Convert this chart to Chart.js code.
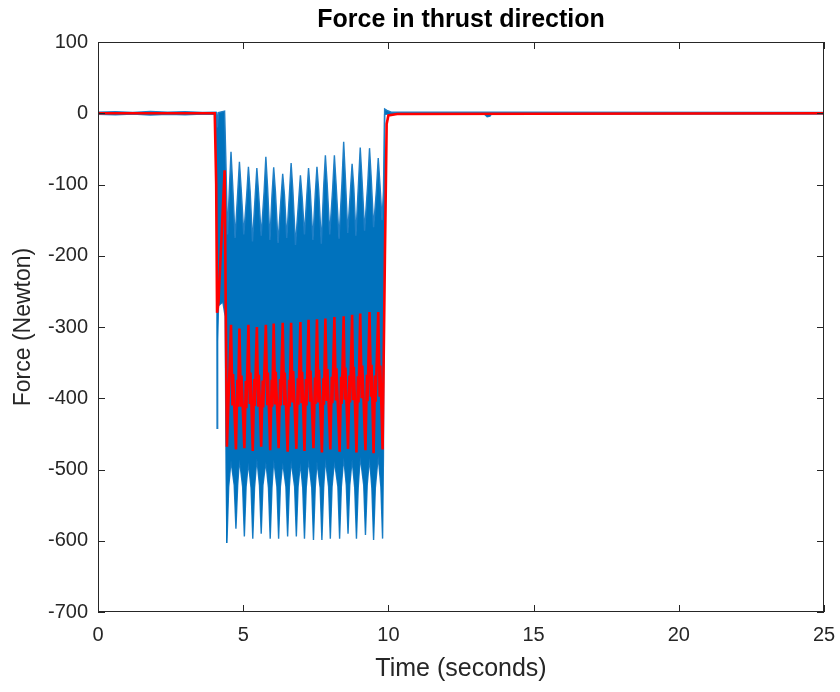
<!DOCTYPE html>
<html>
<head>
<meta charset="utf-8">
<title>Force in thrust direction</title>
<script src="https://cdn.jsdelivr.net/npm/chart.js@4.4.0/dist/chart.umd.min.js"></script>
<style>
  body { margin: 0; background: #fff; }
  #wrap { width: 840px; height: 692px; }
</style>
</head>
<body>
<div id="wrap"><canvas id="forceChart"></canvas></div>
<script>
// Force in thrust direction

const chartTitle = 'Force in thrust direction';
const xTicks = [0, 5, 10, 15, 20, 25];
const yTicks = [-700, -600, -500, -400, -300, -200, -100, 0, 100];

// blue signal, upper edge of the dense band (seconds / Newton)
const blueTopTime = [
    0, 0.6, 1.2, 1.8, 2.4, 3.0, 3.6, 4.07,
    4.09, 4.11, 4.15, 4.36, 4.40, 4.46,
    4.52, 4.58, 4.64, 4.72,
    4.81, 4.87, 4.93, 5.02,
    5.12, 5.18, 5.24, 5.32,
    5.41, 5.47, 5.53, 5.62,
    5.72, 5.78, 5.84, 5.92,
    5.99, 6.05, 6.11, 6.20,
    6.30, 6.36, 6.42, 6.50,
    6.59, 6.65, 6.71, 6.80,
    6.91, 6.97, 7.03, 7.11,
    7.19, 7.25, 7.31, 7.40,
    7.48, 7.54, 7.60, 7.69,
    7.77, 7.83, 7.89, 7.98,
    8.08, 8.14, 8.20, 8.30,
    8.40, 8.46, 8.52, 8.60,
    8.69, 8.75, 8.81, 8.88,
    8.97, 9.03, 9.09, 9.18,
    9.29, 9.35, 9.41, 9.49,
    9.59, 9.65, 9.71, 9.78,
    9.83, 9.87, 9.95, 10.1, 13.3, 13.4, 13.5, 25
];
const blueTopForce = [
    1.5, 2, 1, 2.5, 1.5, 2, 1, 1.5,
    0, -20, 1, 3, -60, -170,
    -110, -54, -102, -175,
    -112, -68, -106, -170,
    -115, -75, -110, -180,
    -118, -77, -112, -172,
    -110, -61, -104, -178,
    -116, -76, -110, -182,
    -120, -85, -114, -175,
    -114, -70, -108, -185,
    -122, -87, -118, -170,
    -116, -77, -110, -178,
    -114, -75, -108, -183,
    -104, -59, -98, -170,
    -106, -59, -100, -176,
    -98, -40, -92, -168,
    -110, -71, -105, -172,
    -98, -48, -92, -165,
    -98, -49, -92, -160,
    -106, -63, -100, -150,
    -110, 6, 4, 1.5, 1.5, 1.5, 1.5, 1
];

// blue signal, lower edge of the dense band
const blueBottomTime = [
    0, 0.6, 1.2, 1.8, 2.4, 3.0, 3.6, 4.07,
    4.09, 4.10, 4.12, 4.15, 4.30, 4.38, 4.41,
    4.44, 4.50, 4.58,
    4.69, 4.75, 4.81, 4.87,
    4.98, 5.04, 5.10, 5.18,
    5.27, 5.33, 5.39, 5.47,
    5.56, 5.62, 5.68, 5.78,
    5.87, 5.93, 5.99, 6.05,
    6.16, 6.22, 6.28, 6.36,
    6.47, 6.53, 6.59, 6.65,
    6.77, 6.83, 6.89, 6.97,
    7.05, 7.11, 7.17, 7.25,
    7.36, 7.42, 7.48, 7.54,
    7.65, 7.71, 7.77, 7.83,
    7.94, 8.00, 8.06, 8.14,
    8.26, 8.32, 8.38, 8.46,
    8.55, 8.61, 8.67, 8.75,
    8.84, 8.90, 8.96, 9.03,
    9.15, 9.21, 9.27, 9.35,
    9.43, 9.49, 9.55, 9.65,
    9.74, 9.80, 9.83,
    9.87, 10.1, 13.3, 13.4, 13.5, 13.55, 25
];
const blueBottomForce = [
    -1.5, -2, -1, -2.5, -1.5, -2, -1, -1.5,
    -100, -442, -320, -270, -265, -285, -500,
    -603, -525, -488,
    -522, -583, -522, -486,
    -524, -594, -524, -490,
    -526, -597, -526, -485,
    -522, -590, -522, -489,
    -526, -597, -526, -486,
    -524, -597, -524, -490,
    -524, -594, -524, -488,
    -524, -594, -524, -491,
    -526, -597, -526, -486,
    -526, -599, -526, -489,
    -526, -599, -526, -485,
    -524, -597, -524, -488,
    -524, -597, -524, -483,
    -522, -590, -522, -486,
    -526, -597, -526, -482,
    -522, -592, -522, -484,
    -526, -599, -526, -481,
    -524, -597, -480,
    -1.5, -1, -1, -5, -4, -1, -1
];

// red signal
const redTime = [
    0, 4.02, 4.07, 4.10, 4.15, 4.36, 4.44,
    4.58, 4.63, 4.65, 4.75, 4.80, 4.82,
    4.87, 4.92, 4.94, 5.04, 5.09, 5.11,
    5.18, 5.23, 5.25, 5.33, 5.38, 5.40,
    5.47, 5.52, 5.54, 5.62, 5.67, 5.69,
    5.78, 5.83, 5.85, 5.93, 5.98, 6.00,
    6.05, 6.10, 6.12, 6.22, 6.27, 6.29,
    6.36, 6.41, 6.43, 6.53, 6.58, 6.60,
    6.65, 6.70, 6.72, 6.83, 6.88, 6.90,
    6.97, 7.01, 7.03, 7.11, 7.16, 7.18,
    7.25, 7.30, 7.32, 7.42, 7.47, 7.49,
    7.54, 7.59, 7.61, 7.71, 7.76, 7.78,
    7.83, 7.88, 7.90, 8.00, 8.05, 8.07,
    8.14, 8.19, 8.21, 8.32, 8.37, 8.39,
    8.46, 8.50, 8.52, 8.61, 8.66, 8.68,
    8.75, 8.79, 8.81, 8.90, 8.95, 8.97,
    9.03, 9.08, 9.10, 9.21, 9.26, 9.28,
    9.35, 9.40, 9.42, 9.49, 9.54, 9.56,
    9.65, 9.70, 9.72, 9.80,
    9.88, 9.94, 10.0, 10.3, 25
];
const redForce = [
    0, 0, -100, -280, -265, -80, -468,
    -297, -410, -366, -472, -374, -412,
    -302, -412, -368, -470, -376, -414,
    -297, -408, -364, -474, -373, -411,
    -300, -410, -367, -468, -375, -413,
    -297, -408, -364, -473, -374, -412,
    -295, -407, -363, -470, -373, -410,
    -294, -408, -364, -475, -374, -412,
    -294, -406, -362, -471, -372, -409,
    -293, -407, -363, -474, -373, -410,
    -290, -405, -361, -470, -371, -408,
    -289, -404, -360, -476, -372, -409,
    -288, -404, -359, -472, -370, -407,
    -286, -403, -358, -475, -370, -408,
    -285, -402, -357, -471, -368, -406,
    -283, -401, -356, -476, -369, -406,
    -281, -400, -354, -473, -367, -404,
    -279, -398, -353, -477, -368, -405,
    -279, -398, -354, -472,
    -200, -15, -3, -1, 0
];

function toPoints(times, values) {
    return times.map((t, i) => ({ x: t, y: values[i] }));
}

const fontFamily = "'Liberation Sans', Arial, Helvetica, sans-serif";

// MATLAB style box with inward ticks on all four sides, title over the plot area
const axesBox = {
    id: 'axesBox',
    afterDatasetsDraw(chart) {
        const { ctx, chartArea: a, scales } = chart;
        const len = 7;
        ctx.save();
        ctx.strokeStyle = '#262626';
        ctx.lineWidth = 1;
        ctx.beginPath();
        xTicks.forEach(v => {
            const px = Math.round(scales.x.getPixelForValue(v)) + 0.5;
            ctx.moveTo(px, a.bottom);
            ctx.lineTo(px, a.bottom - len);
            ctx.moveTo(px, a.top);
            ctx.lineTo(px, a.top + len);
        });
        yTicks.forEach(v => {
            const py = Math.round(scales.y.getPixelForValue(v)) + 0.5;
            ctx.moveTo(a.left, py);
            ctx.lineTo(a.left + len, py);
            ctx.moveTo(a.right, py);
            ctx.lineTo(a.right - len, py);
        });
        ctx.stroke();
        ctx.strokeRect(Math.round(a.left) + 0.5, Math.round(a.top) + 0.5,
            Math.round(a.width) - 1, Math.round(a.height) - 1);

        ctx.fillStyle = '#000';
        ctx.font = 'bold 25px ' + fontFamily;
        ctx.textAlign = 'center';
        ctx.textBaseline = 'middle';
        ctx.fillText(chartTitle, (a.left + a.right) / 2, 20);
        ctx.restore();
    }
};

new Chart(document.getElementById('forceChart'), {
    type: 'scatter',
    data: {
        datasets: [
            {
                label: 'red',
                data: toPoints(redTime, redForce),
                showLine: true,
                borderColor: '#ff0000',
                borderWidth: 2.6,
                pointRadius: 0,
                fill: false,
                order: 0
            },
            {
                label: 'blue top',
                data: toPoints(blueTopTime, blueTopForce),
                showLine: true,
                borderColor: '#1f7fc6',
                borderWidth: 1.4,
                backgroundColor: '#0072bd',
                pointRadius: 0,
                fill: '+1',
                order: 1
            },
            {
                label: 'blue bottom',
                data: toPoints(blueBottomTime, blueBottomForce),
                showLine: true,
                borderColor: '#1f7fc6',
                borderWidth: 1.4,
                pointRadius: 0,
                fill: false,
                order: 2
            }
        ]
    },
    options: {
        responsive: true,
        maintainAspectRatio: false,
        animation: false,
        events: [],
        layout: {
            padding: { left: 0, right: 16, top: 42, bottom: 0 }
        },
        plugins: {
            legend: { display: false },
            tooltip: { enabled: false },
            title: { display: false }
        },
        scales: {
            x: {
                type: 'linear',
                min: 0,
                max: 25,
                afterBuildTicks: s => { s.ticks = xTicks.map(v => ({ value: v })); },
                afterFit: s => { s.height = 80; },
                grid: { display: false },
                border: { display: false },
                ticks: {
                    color: '#262626',
                    font: { family: fontFamily, size: 20 },
                    padding: 3,
                    maxRotation: 0
                },
                title: {
                    display: true,
                    text: 'Time (seconds)',
                    color: '#262626',
                    font: { family: fontFamily, size: 25 },
                    padding: { top: 0, bottom: 8 }
                }
            },
            y: {
                type: 'linear',
                min: -700,
                max: 100,
                afterBuildTicks: s => { s.ticks = yTicks.map(v => ({ value: v })); },
                afterFit: s => { s.width = 98; },
                grid: { display: false },
                border: { display: false },
                ticks: {
                    color: '#262626',
                    font: { family: fontFamily, size: 20 },
                    padding: 2
                },
                title: {
                    display: true,
                    text: 'Force (Newton)',
                    color: '#262626',
                    font: { family: fontFamily, size: 23 },
                    padding: { top: 10, bottom: 0 }
                }
            }
        }
    },
    plugins: [axesBox]
});
</script>
</body>
</html>
